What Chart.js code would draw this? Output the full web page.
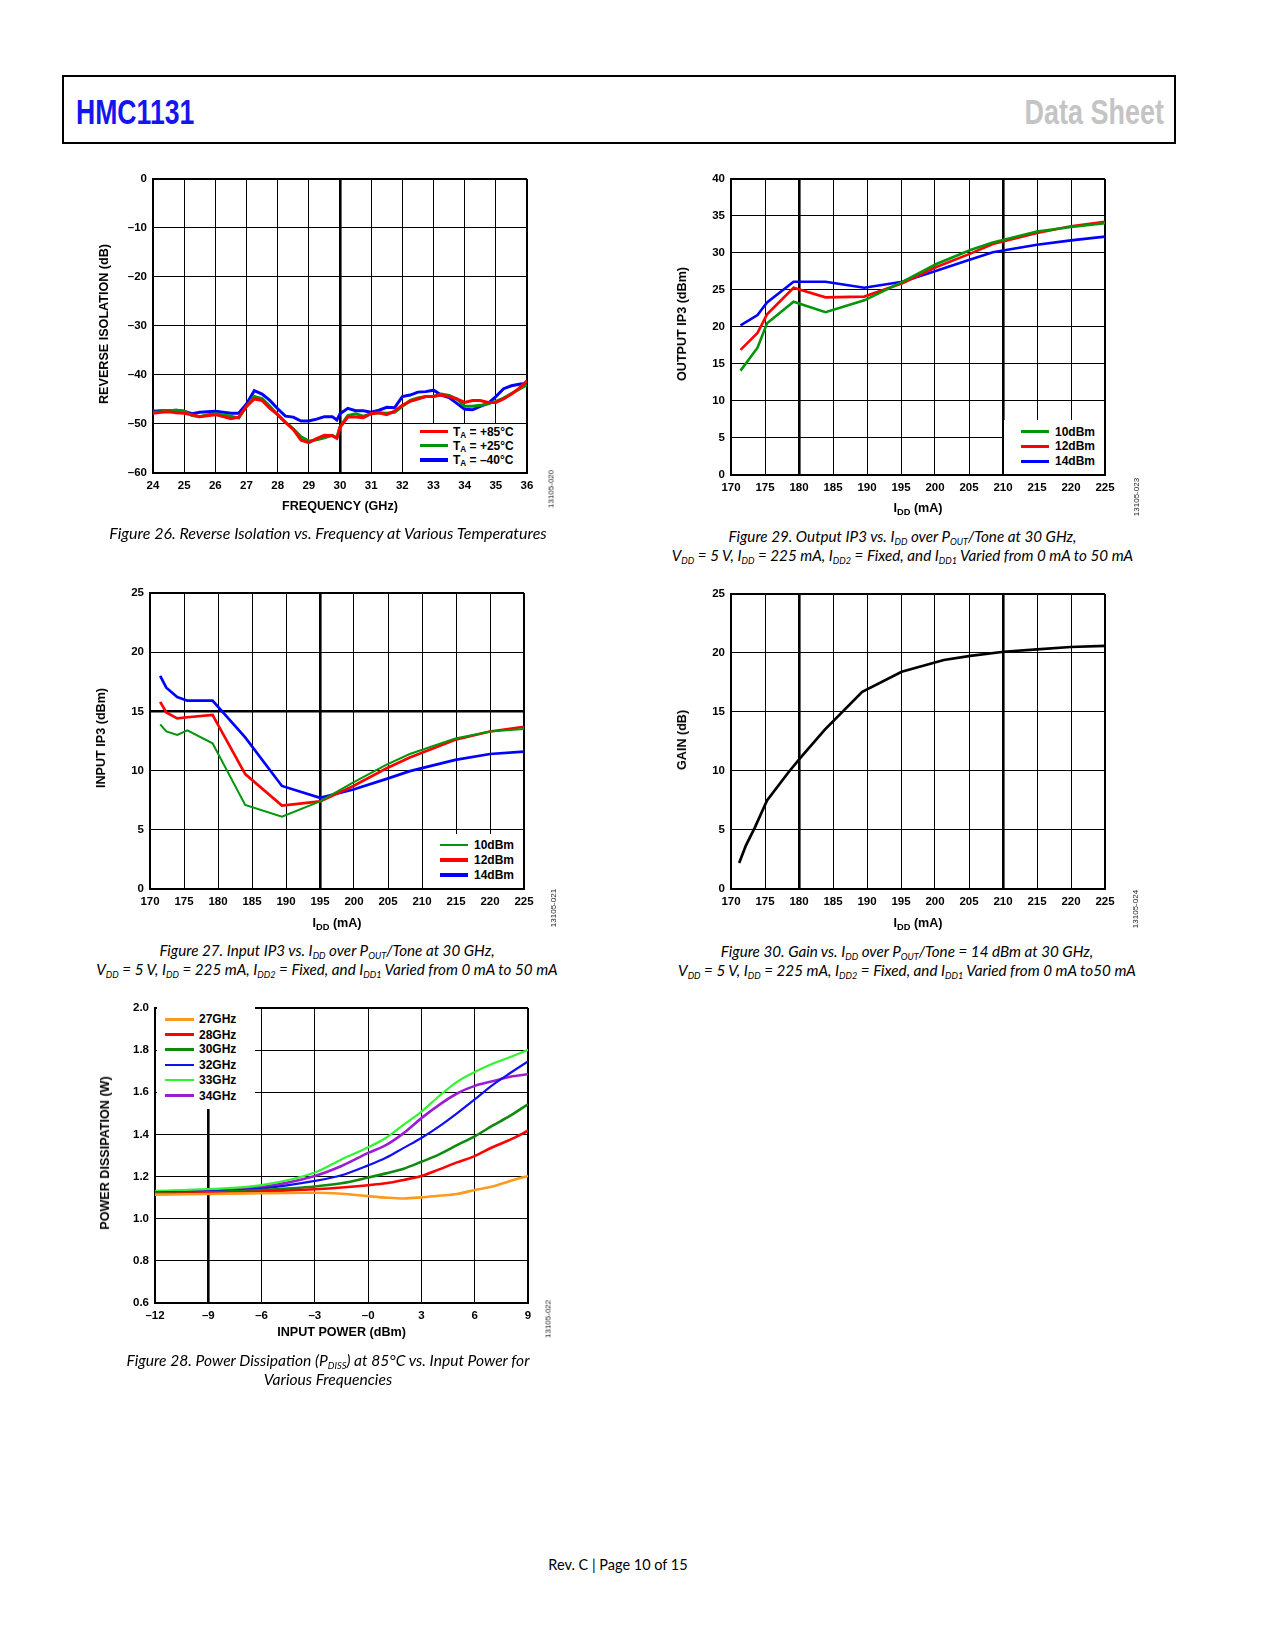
<!DOCTYPE html>
<html>
<head>
<meta charset="utf-8">
<script src="https://cdn.jsdelivr.net/npm/chart.js@4.4.0/dist/chart.umd.min.js"></script>
<style>
  body { margin: 0; width: 1275px; height: 1650px; position: relative; background: #fff;
         font-family: "Liberation Sans", Arial, sans-serif; color: #000; }
  .hdr { position: absolute; left: 62px; top: 75px; width: 1114px; height: 69px;
         border: 2px solid #000; box-sizing: border-box; }
  .hdr span { position: absolute; top: 17px; font-family: "Liberation Sans Narrow", "Liberation Sans", sans-serif;
              font-weight: bold; font-size: 35px; line-height: 35px; }
  .ytitle, .xtitle { position: absolute; font-weight: bold; font-size: 12.6px; white-space: nowrap; }
  .ytitle { transform: translate(-50%, -50%) rotate(-90deg); }
  .xtitle { transform: translate(-50%, -50%); }
  .xtitle sub { font-size: 74%; }
  .cap { position: absolute; transform: translateX(-50%); font-family: Lato, "Open Sans", sans-serif;
         font-style: italic; font-size: 15.2px; line-height: 19px; text-align: center; white-space: nowrap; }
  .cap sub { font-size: 60%; }
  .code { position: absolute; font-size: 8px; color: #222; white-space: nowrap;
          transform: translate(-50%, -50%) rotate(-90deg); }
  .legend { position: absolute; background: #fff; }
  .legend div { position: absolute; font-weight: bold; font-size: 12px; line-height: 14px; white-space: nowrap; }
  .legend i { position: absolute; display: block; }
  sub { font-size: 68%; vertical-align: -0.3em; line-height: 0; }
  .footer { position: absolute; left: 618px; top: 1556px; transform: translateX(-50%);
            font-family: Lato, "Open Sans", sans-serif; font-size: 14.5px; white-space: nowrap; }
</style>
</head>
<body>
<div class="hdr">
  <span style="left:12px;color:#1515f0;transform:scaleX(0.76);transform-origin:left center">HMC1131</span>
  <span style="right:10px;color:#c4c4c4;transform:scaleX(0.77);transform-origin:right center">Data Sheet</span>
</div>

<script>
// ---------- Figure 26: reverse isolation vs frequency ----------
const freqGHz = [24, 24.25, 24.5, 24.75, 25, 25.25, 25.5, 25.75, 26, 26.25, 26.5, 26.75,
  27, 27.25, 27.5, 27.75, 28, 28.25, 28.5, 28.75, 29, 29.25, 29.5, 29.75, 29.9,
  30, 30.25, 30.5, 30.75, 31, 31.25, 31.5, 31.75, 32, 32.25, 32.5, 32.75,
  33, 33.25, 33.5, 33.75, 34, 34.25, 34.5, 34.75, 35, 35.25, 35.5, 35.75, 36];
const iso85 = [-47.8, -47.6, -47.5, -47.7, -47.8, -48.1, -48.5, -48.3, -48.1, -48.5, -48.9, -48.6,
  -46.4, -44.9, -45.2, -46.8, -48.1, -49.7, -51.1, -53.3, -53.8, -53.0, -52.3, -52.4, -52.9,
  -50.7, -48.6, -48.6, -48.7, -47.9, -47.7, -48.1, -47.4, -46.2, -45.4, -44.9, -44.4,
  -44.4, -44.1, -44.4, -44.9, -45.6, -45.2, -45.2, -45.6, -45.6, -44.9, -43.9, -42.7, -41.2];
const iso25 = [-47.6, -47.5, -47.3, -47.2, -47.4, -48.3, -48.5, -48.1, -47.9, -48.1, -48.4, -48.8,
  -46.4, -44.4, -44.8, -46.4, -48.1, -49.6, -51.0, -52.6, -53.5, -53.2, -52.8, -52.3, -52.8,
  -50.6, -48.3, -47.9, -48.4, -47.9, -47.7, -47.8, -47.6, -46.4, -45.2, -44.7, -44.4,
  -44.4, -43.9, -44.2, -44.9, -46.4, -46.4, -46.2, -45.9, -45.4, -44.7, -43.8, -42.9, -42.0];
const isoM40 = [-47.4, -47.3, -47.3, -47.2, -47.4, -47.9, -47.6, -47.5, -47.4, -47.6, -47.8, -47.8,
  -45.9, -43.2, -43.9, -45.2, -46.9, -48.4, -48.6, -49.4, -49.4, -49.0, -48.5, -48.5, -49.2,
  -47.9, -46.8, -47.3, -47.3, -47.6, -47.2, -46.6, -46.7, -44.4, -44.1, -43.5, -43.4,
  -43.1, -44.1, -44.6, -45.8, -47.0, -47.1, -46.4, -45.8, -44.4, -42.8, -42.2, -41.9, -41.7];
const tempLabels = ['+85°C', '+25°C', '\u201340°C'];
const tempColors = ['#ff0000', '#00960a', '#0000ff'];
const freqTicks = ['24', '25', '26', '27', '28', '29', '30', '31', '32', '33', '34', '35', '36'];
const isoTicks = ['\u201360', '\u201350', '\u201340', '\u201330', '\u201320', '\u201310', '0'];

// ---------- Figure 29: output IP3 vs IDD ----------
const oip3Idd = [171.4, 173.9, 175.3, 179.2, 183.9, 189.6, 195.2, 200.2, 205.2, 208.5, 215, 220, 225];
const oip3At10 = [14.1, 17.2, 20.5, 23.4, 22.0, 23.6, 26.1, 28.5, 30.4, 31.4, 32.9, 33.5, 34.0];
const oip3At12 = [16.9, 19.2, 21.7, 25.3, 24.0, 24.1, 25.9, 28.1, 29.9, 31.2, 32.7, 33.6, 34.2];
const oip3At14 = [20.2, 21.6, 23.3, 26.1, 26.1, 25.3, 26.1, 27.6, 29.1, 30.1, 31.1, 31.7, 32.2];

// ---------- Figure 27: input IP3 vs IDD ----------
const iip3Idd = [171.5, 172.4, 174, 175.5, 179.2, 184, 189.4, 195, 199.9, 204.8, 208.2, 214.9, 220, 225];
const iip3At10 = [13.9, 13.3, 13.0, 13.4, 12.3, 7.1, 6.1, 7.4, 9.0, 10.5, 11.4, 12.7, 13.3, 13.5];
const iip3At12 = [15.8, 14.9, 14.4, 14.5, 14.7, 9.7, 7.05, 7.4, 8.7, 10.2, 11.1, 12.6, 13.3, 13.7];
const iip3At14 = [18.0, 17.0, 16.2, 15.9, 15.9, 12.8, 8.7, 7.7, 8.4, 9.3, 9.95, 10.9, 11.4, 11.6];

const powerLabels = ['10dBm', '12dBm', '14dBm'];
const powerColors = ['#00960a', '#ff0000', '#0000ff'];
const iddTicks = ['170', '175', '180', '185', '190', '195', '200', '205', '210', '215', '220', '225'];
const oip3Ticks = ['0', '5', '10', '15', '20', '25', '30', '35', '40'];
const iip3Ticks = ['0', '5', '10', '15', '20', '25'];

// ---------- Figure 30: gain vs IDD ----------
const gainIdd = [171.2, 172.2, 173.5, 175.3, 178.4, 180.2, 183.8, 189.3, 195.1, 201.3, 205.2, 210.1, 215, 219.9, 225];
const gainDb = [2.2, 3.7, 5.2, 7.5, 9.85, 11.1, 13.5, 16.7, 18.4, 19.4, 19.75, 20.1, 20.3, 20.5, 20.6];
const gainTicks = ['0', '5', '10', '15', '20', '25'];

// ---------- Figure 28: power dissipation vs input power ----------
const pinDbm = [-12, -9, -6, -3, -1.5, 0, 1, 2, 3, 4, 5, 6, 7, 8, 9];
const pd27 = [1.114, 1.117, 1.121, 1.123, 1.118, 1.107, 1.100, 1.096, 1.101, 1.109, 1.117, 1.136, 1.153, 1.179, 1.203];
const pd28 = [1.117, 1.121, 1.129, 1.140, 1.148, 1.159, 1.168, 1.184, 1.203, 1.234, 1.267, 1.297, 1.339, 1.375, 1.417];
const pd30 = [1.121, 1.125, 1.136, 1.153, 1.168, 1.195, 1.215, 1.237, 1.270, 1.305, 1.349, 1.391, 1.441, 1.489, 1.543];
const pd32 = [1.125, 1.129, 1.143, 1.179, 1.206, 1.253, 1.289, 1.336, 1.383, 1.438, 1.500, 1.566, 1.634, 1.691, 1.746];
const pd33 = [1.132, 1.140, 1.159, 1.219, 1.281, 1.339, 1.383, 1.446, 1.508, 1.582, 1.649, 1.696, 1.735, 1.767, 1.801];
const pd34 = [1.128, 1.136, 1.151, 1.203, 1.250, 1.312, 1.349, 1.406, 1.477, 1.540, 1.594, 1.630, 1.652, 1.673, 1.685];
const freqLabels = ['27GHz', '28GHz', '30GHz', '32GHz', '33GHz', '34GHz'];
const freqColors = ['#ff9a1f', '#ff0000', '#0f8a0f', '#1010f0', '#33f433', '#9a1fd0'];
const pinTicks = ['\u201312', '\u20139', '\u20136', '\u20133', '\u20130', '3', '6', '9'];
const pdTicks = ['0.6', '0.8', '1.0', '1.2', '1.4', '1.6', '1.8', '2.0'];
</script>

<script>
const YW = 50, PT = 10, PR = 24, XH = 30;
const TICK_FONT = { family: '"Liberation Sans", Arial, sans-serif', size: 11.5, weight: 'bold' };

function axis(a, isX) {
  return {
    type: 'linear',
    min: a.min, max: a.max,
    afterFit: isX ? (s) => { s.height = XH; } : (s) => { s.width = YW; },
    ticks: {
      stepSize: a.step, autoSkip: false, maxRotation: 0, padding: 6,
      color: '#000', font: TICK_FONT,
      callback: (v, i) => a.labels[i]
    },
    grid: {
      color: '#000', drawTicks: false,
      lineWidth: (ctx) => {
        if (!ctx.tick) return 1;
        if (ctx.index === a.labels.length - 1) return 2;
        return (a.thick || []).includes(ctx.tick.value) ? 2.6 : 1;
      }
    },
    border: { display: true, color: '#000', width: 2 }
  };
}

function series(xs, ys, color, width) {
  return {
    data: ys.map((y, i) => ({ x: xs[i], y: y })),
    borderColor: color, borderWidth: width, pointRadius: 0, fill: false
  };
}

function makeChart(area, x, y, datasets, smooth) {
  const w = Math.round(area.right - area.left + YW + PR);
  const h = Math.round(area.bottom - area.top + PT + XH);
  const canvas = document.createElement('canvas');
  canvas.width = w; canvas.height = h;
  canvas.style.cssText = 'position:absolute;left:' + (area.left - YW) + 'px;top:' + (area.top - PT) +
    'px;width:' + w + 'px;height:' + h + 'px';
  document.body.appendChild(canvas);
  return new Chart(canvas, {
    type: 'line',
    data: { datasets: datasets },
    options: {
      responsive: false,
      animation: false,
      events: [],
      layout: { padding: { top: PT, right: PR, left: 0, bottom: 0 } },
      plugins: { legend: { display: false }, tooltip: { enabled: false } },
      elements: { line: smooth ? { cubicInterpolationMode: 'monotone' } : { tension: 0 } },
      scales: { x: axis(x, true), y: axis(y, false) }
    }
  });
}

function addHtml(cls, html, left, top, style) {
  const d = document.createElement('div');
  d.className = cls;
  d.innerHTML = html;
  d.style.left = left + 'px';
  d.style.top = top + 'px';
  if (style) d.style.fontSize = style;
  document.body.appendChild(d);
  return d;
}

// legend: white box over the plot, one row per series
function addLegend(box, labels, colors, widths, rowsY, lineX, textX) {
  const lg = document.createElement('div');
  lg.className = 'legend';
  lg.style.cssText = 'left:' + box[0] + 'px;top:' + box[1] + 'px;width:' + (box[2] - box[0]) +
    'px;height:' + (box[3] - box[1]) + 'px';
  labels.forEach((lab, i) => {
    const ln = document.createElement('i');
    ln.style.cssText = 'left:' + (lineX[0] - box[0]) + 'px;width:' + (lineX[1] - lineX[0]) + 'px;top:' +
      (rowsY[i] - box[1] - widths[i] / 2) + 'px;height:' + widths[i] + 'px;background:' + colors[i];
    lg.appendChild(ln);
    const t = document.createElement('div');
    t.innerHTML = lab;
    t.style.left = (textX - box[0]) + 'px';
    t.style.top = (rowsY[i] - box[1] - 7) + 'px';
    lg.appendChild(t);
  });
  document.body.appendChild(lg);
}

const condLine = 'V<sub>DD</sub> = 5 V, I<sub>DD</sub> = 225 mA, I<sub>DD2</sub> = Fixed, and I<sub>DD1</sub> Varied from 0 mA to';

// Figure 26
makeChart({ left: 153, right: 527, top: 176, bottom: 473 },
  { min: 24, max: 36, step: 1, labels: freqTicks, thick: [30] },
  { min: -60, max: 0, step: 10, labels: isoTicks },
  [series(freqGHz, iso85, tempColors[0], 3),
   series(freqGHz, iso25, tempColors[1], 3),
   series(freqGHz, isoM40, tempColors[2], 3)]);
addLegend([414, 424, 525, 472], tempLabels.map(t => 'T<sub>A</sub> = ' + t), tempColors, [3.5, 3.5, 3.5],
  [431.7, 445.7, 460], [420, 448], 453);
addHtml('ytitle', 'REVERSE ISOLATION (dB)', 103.5, 324);
addHtml('xtitle', 'FREQUENCY (GHz)', 340, 505.7);
addHtml('cap', 'Figure 26. Reverse Isolation vs. Frequency at Various Temperatures', 328, 522.5, '16px');
addHtml('code', '13105-020', 551, 489);

// Figure 29
makeChart({ left: 731, right: 1105, top: 176, bottom: 475 },
  { min: 170, max: 225, step: 5, labels: iddTicks, thick: [180, 210] },
  { min: 0, max: 40, step: 5, labels: oip3Ticks },
  [series(oip3Idd, oip3At10, powerColors[0], 2.6),
   series(oip3Idd, oip3At12, powerColors[1], 2.6),
   series(oip3Idd, oip3At14, powerColors[2], 2.6)]);
addLegend([1004, 420, 1104, 474], powerLabels, powerColors, [3, 3, 3],
  [431.7, 446, 461], [1021, 1049], 1055);
addHtml('ytitle', 'OUTPUT IP3 (dBm)', 681.7, 324);
addHtml('xtitle', 'I<sub>DD</sub> (mA)', 918, 508.3);
addHtml('cap', 'Figure 29. Output IP3 vs. I<sub>DD</sub> over P<sub>OUT</sub>/Tone at 30 GHz,<br>' +
  condLine + ' 50 mA', 902.5, 526.5);
addHtml('code', '13105-023', 1136, 497);

// Figure 27
makeChart({ left: 150, right: 524, top: 590, bottom: 889 },
  { min: 170, max: 225, step: 5, labels: iddTicks, thick: [195] },
  { min: 0, max: 25, step: 5, labels: iip3Ticks, thick: [15] },
  [series(iip3Idd, iip3At10, powerColors[0], 2),
   series(iip3Idd, iip3At12, powerColors[1], 2.7),
   series(iip3Idd, iip3At14, powerColors[2], 2.7)]);
addLegend([437, 834, 523, 888], powerLabels, powerColors, [2, 3.2, 3.2],
  [845, 860, 875], [440, 468], 474);
addHtml('ytitle', 'INPUT IP3 (dBm)', 100.5, 738);
addHtml('xtitle', 'I<sub>DD</sub> (mA)', 337, 922.7);
addHtml('cap', 'Figure 27. Input IP3 vs. I<sub>DD</sub> over P<sub>OUT</sub>/Tone at 30 GHz,<br>' +
  condLine + ' 50 mA', 327, 940.5);
addHtml('code', '13105-021', 553, 908);

// Figure 30
makeChart({ left: 731, right: 1105, top: 591, bottom: 889 },
  { min: 170, max: 225, step: 5, labels: iddTicks, thick: [180, 210] },
  { min: 0, max: 25, step: 5, labels: gainTicks },
  [series(gainIdd, gainDb, '#000', 2.7)]);
addHtml('ytitle', 'GAIN (dB)', 681.7, 740);
addHtml('xtitle', 'I<sub>DD</sub> (mA)', 918, 923.3);
addHtml('cap', 'Figure 30. Gain vs. I<sub>DD</sub> over P<sub>OUT</sub>/Tone = 14 dBm at 30 GHz,<br>' +
  condLine + '50 mA', 907, 941.5);
addHtml('code', '13105-024', 1135, 909);

// Figure 28
makeChart({ left: 155, right: 528, top: 1005, bottom: 1303 },
  { min: -12, max: 9, step: 3, labels: pinTicks, thick: [-9] },
  { min: 0.6, max: 2.0, step: 0.2, labels: pdTicks },
  [series(pinDbm, pd27, freqColors[0], 2.6),
   series(pinDbm, pd28, freqColors[1], 2.6),
   series(pinDbm, pd30, freqColors[2], 2.6),
   series(pinDbm, pd32, freqColors[3], 2.2),
   series(pinDbm, pd33, freqColors[4], 2.2),
   series(pinDbm, pd34, freqColors[5], 2.6)], true);
addLegend([156.5, 1006.5, 255, 1109], freqLabels, freqColors, [3, 3, 3, 2, 2, 3],
  [1019, 1034.7, 1049.3, 1064.7, 1080.3, 1095.7], [165, 194], 199);
addHtml('ytitle', 'POWER DISSIPATION (W)', 105, 1153);
addHtml('xtitle', 'INPUT POWER (dBm)', 341.5, 1331.5);
addHtml('cap', 'Figure 28. Power Dissipation (P<sub>DISS</sub>) at 85°C vs. Input Power for<br>Various Frequencies',
  328, 1350.5, '15.6px');
addHtml('code', '13105-022', 548, 1319);

addHtml('footer', 'Rev. C | Page 10 of 15', 618, 1556);
</script>
</body>
</html>
